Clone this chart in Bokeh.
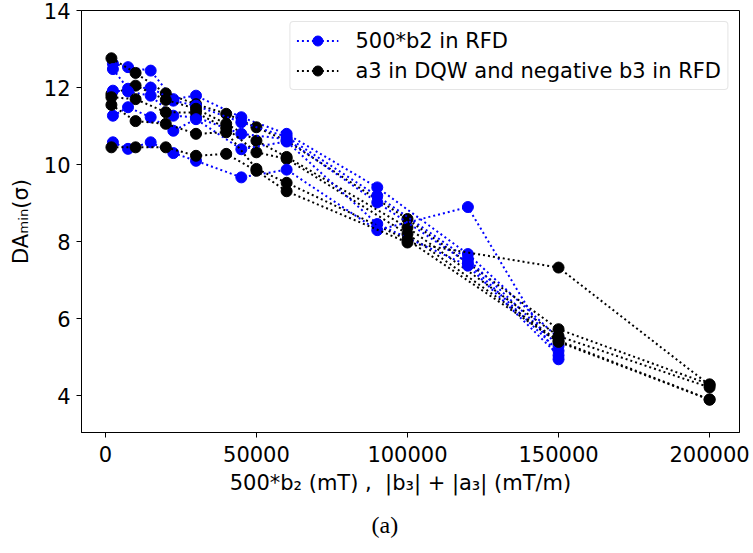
from bokeh.plotting import figure
from bokeh.models import Legend, LegendItem, FixedTicker, BasicTickFormatter, Range1d, Title
from bokeh.embed import file_html
from bokeh.resources import INLINE

# x positions (500*b2 in mT) for the blue runs
blue_x = [2500, 7500, 15000, 22500, 30000, 45000, 60000, 90000, 120000, 150000]
blue_run1 = [12.62, 12.53, 12.44, 11.70, 11.79, 11.23, 10.80, 9.41, 7.68, 5.50]
blue_run2 = [12.48, 11.97, 12.00, 11.66, 11.53, 11.10, 10.72, 9.19, 7.55, 5.30]
blue_run3 = [11.92, 11.90, 11.79, 11.27, 11.23, 10.80, 10.66, 9.02, 7.45, 5.17]
blue_run4 = [11.27, 11.49, 11.23, 10.88, 11.18, 10.40, 10.60, 8.46, 7.38, 5.05]
blue_run5 = [10.58, 10.41, 10.58, 10.30, 10.10, 9.67, 9.87, 8.30, 8.90, 4.95]

# x positions (|b3|+|a3| in mT/m) for the black runs
black_x = [2000, 10000, 20000, 30000, 40000, 50000, 60000, 100000, 150000, 200000]
black_run1 = [12.76, 12.38, 11.85, 11.57, 11.32, 10.97, 10.62, 8.59, 5.73, 4.30]
black_run2 = [11.83, 12.05, 11.68, 11.45, 11.06, 10.62, 10.20, 8.37, 5.55, 4.22]
black_run3 = [11.75, 11.70, 11.36, 11.35, 10.95, 10.32, 10.15, 8.20, 5.43, 3.91]
black_run4 = [11.55, 11.13, 11.06, 10.80, 10.84, 9.89, 9.53, 8.05, 5.40, 3.90]
black_run5 = [10.45, 10.45, 10.45, 10.23, 10.28, 9.84, 9.31, 7.98, 7.33, 4.28]

blue_runs = [blue_run1, blue_run2, blue_run3, blue_run4, blue_run5]
black_runs = [black_run1, black_run2, black_run3, black_run4, black_run5]

x_ticks = [0, 50000, 100000, 150000, 200000]
y_ticks = [4, 6, 8, 10, 12, 14]

blue_label = "500*b2 in RFD"
black_label = "a3 in DQW and negative b3 in RFD"
x_label = ("500*b\u2082 (mT)\u00a0,\u00a0\u00a0|b\u2083|\u00a0+\u00a0|a\u2083|\u00a0(mT/m)"
           "\u00a0\u00a0\u00a0")
y_label = "DA\u2098\u1d62\u2099(\u03c3)"
caption = "(a)"

FONT = "DejaVu Sans"
FS = "21px"

p = figure(width=753, height=553, output_backend="svg", toolbar_location=None,
           x_range=Range1d(-7900, 209900), y_range=Range1d(3.05, 14),
           min_border_left=81, min_border_right=14, min_border_top=10,
           min_border_bottom=121, background_fill_color="white",
           border_fill_color="white")

blue_r = []
black_r = []
for br, kr in zip(blue_runs, black_runs):
    l1 = p.line(blue_x, br, line_color="#0000ff", line_width=2, line_dash="2 3")
    s1 = p.scatter(blue_x, br, size=11, marker="circle", fill_color="#0000ff",
                   line_color="#0000ff")
    l2 = p.line(black_x, kr, line_color="black", line_width=2, line_dash="2 3")
    s2 = p.scatter(black_x, kr, size=11, marker="circle", fill_color="black",
                   line_color="black")
    blue_r.append((l1, s1))
    black_r.append((l2, s2))

legend = Legend(items=[
    LegendItem(label=blue_label, renderers=list(blue_r[0])),
    LegendItem(label=black_label, renderers=list(black_r[0])),
], location="top_right")
legend.margin = 11
legend.padding = 6
legend.spacing = 5
legend.label_height = 25
legend.glyph_height = 25
legend.glyph_width = 42
legend.label_standoff = 17
legend.label_text_font = FONT
legend.label_text_font_size = FS
legend.label_text_color = "black"
legend.border_line_color = "#cccccc"
legend.border_line_width = 1
legend.background_fill_color = "white"
legend.background_fill_alpha = 0.8
if "border_radius" in Legend.properties():
    legend.border_radius = 4
p.add_layout(legend)

p.xaxis.ticker = FixedTicker(ticks=x_ticks)
p.yaxis.ticker = FixedTicker(ticks=y_ticks)
p.xaxis.formatter = BasicTickFormatter(use_scientific=False)
p.xaxis.axis_label = x_label
p.yaxis.axis_label = y_label
for ax in (p.xaxis, p.yaxis):
    ax.major_tick_out = 5
    ax.major_tick_in = 0
    ax.minor_tick_out = 0
    ax.minor_tick_in = 0
    ax.major_tick_line_color = "black"
    ax.axis_line_color = "black"
    ax.major_label_text_font = FONT
    ax.major_label_text_font_size = FS
    ax.major_label_text_color = "black"
    ax.axis_label_text_font = FONT
    ax.axis_label_text_font_size = FS
    ax.axis_label_text_font_style = "normal"
    ax.axis_label_text_color = "black"
p.xaxis.major_label_standoff = 8
p.yaxis.major_label_standoff = 6
p.xaxis.axis_label_standoff = 6
p.yaxis.axis_label_standoff = 8

p.grid.visible = False
p.outline_line_color = "black"
p.outline_line_width = 1
p.outline_line_alpha = 1

cap = Title(text=caption, align="left", offset=290, text_font="Liberation Serif",
            text_font_size="24px", text_font_style="normal", text_color="black")
if "standoff" in Title.properties():
    cap.standoff = 25
p.add_layout(cap, "below")

open("out.html", "w").write(file_html(p, INLINE))
